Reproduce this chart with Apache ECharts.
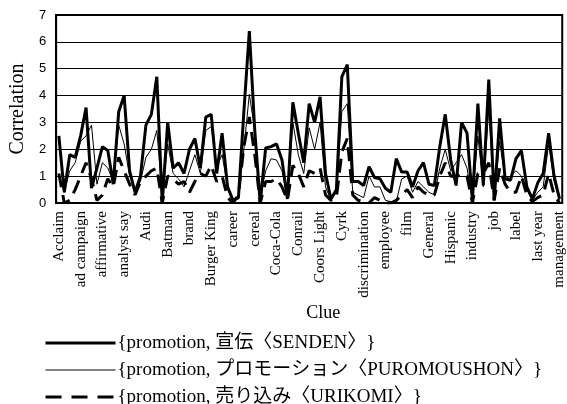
<!DOCTYPE html>
<html>
<head>
<meta charset="utf-8">
<script src="https://cdn.jsdelivr.net/npm/echarts@6/dist/echarts.min.js"></script>
<style>
  html, body { margin: 0; padding: 0; background: #fff; }
  #clueChart { width: 567px; height: 404px; }
</style>
</head>
<body>
<div id="clueChart"></div>
<script>
// clue words (only every 4th one is labelled on the axis)
const clues = [
  'Acclaim', 'account', 'ad', 'ad agency', 'ad campaign', 'ad spending', 'advertiser', 'advertising',
  'affirmative', 'agency', 'American', 'analyst', 'analyst say', 'Apple', 'AT&T', 'attorney',
  'Audi', 'award', 'bank', 'baseball', 'Batman', 'beer', 'billboard', 'book',
  'brand', 'brand name', 'budget', 'Budweiser', 'Burger King', 'business', 'campaign', 'candidate',
  'career', 'catalog', 'CBS', 'celebrity', 'cereal', 'chain', 'Chrysler', 'client',
  'Coca-Cola', 'coffee', 'company', 'computer', 'Conrail', 'consumer', 'contest', 'Coors',
  'Coors Light', 'coupon', 'credit card', 'customer', 'Cyrk', 'deal', 'dealer', 'discount',
  'discrimination', 'Disney', 'distributor', 'election', 'employee', 'event', 'executive', 'fashion',
  'film', 'Ford', 'game', 'gasoline', 'General', 'gift', 'Gillette', 'hiring',
  'Hispanic', 'holiday', 'hotel', 'incentive', 'industry', 'initiative', 'investment', 'item',
  'job', 'Kellogg', 'Kmart', 'Kodak', 'label', 'labor', 'language', 'last week',
  'last year', 'launch', 'law', 'logo', 'management'
];

// {promotion, 宣伝}
const senden = [
  2.5, 0.4, 1.8, 1.7, 2.5, 3.55, 0.55, 1.3, 2.1, 1.95, 0.7, 3.4, 4.0, 1.2, 0.4, 1.0,
  2.9, 3.3, 4.7, 0.0, 3.0, 1.3, 1.5, 1.1, 2.0, 2.4, 1.3, 3.2, 3.3, 1.1, 2.6, 0.6,
  0.1, 0.2, 3.4, 6.4, 2.7, 0.0, 2.05, 2.1, 2.2, 1.6, 0.15, 3.75, 2.6, 1.5, 3.7, 3.0,
  3.95, 1.1, 0.15, 0.5, 4.7, 5.15, 0.8, 0.8, 0.65, 1.35, 0.95, 0.9, 0.55, 0.4, 1.65, 1.15,
  1.15, 0.6, 1.2, 1.5, 0.7, 0.65, 2.1, 3.3, 1.6, 0.65, 3.0, 2.6, 0.1, 3.7, 0.65, 4.6,
  0.1, 3.15, 0.9, 0.85, 1.65, 1.95, 0.6, 0.15, 0.75, 1.1, 2.6, 1.0, 0.15
];

// {promotion, プロモーション}
const puromoushon = [
  1.0, 0.4, 1.2, 1.5, 2.3, 2.5, 2.9, 0.7, 1.5, 1.3, 0.8, 2.9, 2.2, 1.0, 0.5, 0.8,
  1.7, 2.0, 2.7, 0.3, 2.2, 1.1, 0.9, 0.6, 1.2, 1.8, 1.1, 2.7, 2.85, 1.35, 1.8, 0.6,
  0.1, 0.2, 2.0, 4.05, 2.7, 0.2, 1.2, 1.65, 1.6, 1.2, 0.2, 3.0, 1.8, 1.1, 2.8, 2.0,
  3.0, 0.6, 0.1, 0.4, 3.4, 3.7, 0.4, 0.3, 0.2, 1.0, 0.6, 0.6, 0.1, 0.05, 0.05, 0.9,
  1.0, 0.4, 0.8, 0.6, 0.4, 0.3, 1.3, 2.0, 1.2, 1.5, 1.8, 1.3, 0.1, 2.5, 0.6, 3.5,
  0.2, 2.3, 0.9, 1.0, 1.2, 1.0, 0.5, 0.1, 0.4, 0.6, 2.2, 0.8, 0.1
];

// {promotion, 売り込み}
const urikomi = [
  1.1, 0.0, 0.1, 0.5, 1.0, 1.5, 0.9, 0.1, 0.3, 0.9, 0.6, 1.7, 1.2, 0.7, 0.3, 0.8,
  1.0, 1.2, 1.3, 0.0, 1.0, 0.9, 0.7, 0.8, 0.4, 0.8, 1.1, 1.0, 1.4, 0.8, 1.0, 0.2,
  0.0, 0.3, 2.1, 3.2, 1.8, 0.0, 0.8, 0.8, 0.9, 0.6, 0.1, 1.4, 1.1, 0.6, 1.2, 1.1,
  1.3, 0.3, 0.1, 0.2, 1.9, 2.4, 0.3, 0.1, 0.05, 0.0, 0.2, 0.1, 0.0, 0.0, 0.1, 0.3,
  0.5, 0.2, 0.6, 0.4, 0.3, 0.3, 1.0, 1.5, 1.0, 1.0, 1.1, 1.0, 0.0, 1.1, 1.1, 1.5,
  0.1, 1.3, 0.7, 0.4, 0.4, 1.0, 0.3, 0.05, 0.2, 0.3, 1.1, 0.3, 0.0
];

const seriesNames = [
  '{promotion, 宣伝〈SENDEN〉}',
  '{promotion, プロモーション〈PUROMOUSHON〉}',
  '{promotion, 売り込み〈URIKOMI〉}'
];

const serif = "'Liberation Serif', 'Noto Sans CJK JP', serif";

const init = () => {
  let chartDom = document.getElementById('clueChart');
  let myChart = echarts.init(chartDom);
  let option = {
    animation: false,
    grid: {
      left: 54,
      right: 3,
      top: 15,
      bottom: 201,
      show: true,
      borderColor: '#000',
      borderWidth: 2
    },
    legend: {
      orient: 'vertical',
      left: 44,
      top: 333,
      height: 100,
      padding: 0,
      itemWidth: 70,
      itemHeight: 14,
      itemGap: 7,
      data: [
        { name: seriesNames[0], lineStyle: { width: 3 } },
        { name: seriesNames[1], lineStyle: { width: 1 } },
        { name: seriesNames[2], lineStyle: { width: 3, type: [16, 10] } }
      ],
      itemStyle: { opacity: 0 },
      textStyle: {
        fontFamily: serif,
        fontSize: 19,
        lineHeight: 20,
        color: '#000',
        padding: [0, 0, 0, -3]
      }
    },
    xAxis: {
      type: 'category',
      data: clues,
      boundaryGap: true,
      name: 'Clue',
      nameLocation: 'middle',
      nameGap: 101,
      nameTextStyle: {
        fontFamily: serif,
        fontSize: 18,
        color: '#000',
        padding: [0, 0, 0, 28]
      },
      axisLine: {
        lineStyle: { color: '#000', width: 2 }
      },
      axisTick: {
        inside: true,
        length: 4,
        interval: 0,
        lineStyle: { color: '#000' }
      },
      axisLabel: {
        interval: 3,
        rotate: 90,
        margin: 8,
        fontFamily: serif,
        fontSize: 15,
        color: '#000'
      }
    },
    yAxis: {
      type: 'value',
      min: 0,
      max: 7,
      interval: 1,
      name: 'Correlation',
      nameLocation: 'middle',
      nameGap: 27,
      nameTextStyle: {
        fontFamily: serif,
        fontSize: 20,
        color: '#000'
      },
      axisLine: {
        show: true,
        lineStyle: { color: '#000', width: 2 }
      },
      axisTick: { show: false },
      axisLabel: {
        margin: 10,
        fontFamily: "'Liberation Sans', Arial, sans-serif",
        fontSize: 13,
        color: '#000'
      },
      splitLine: {
        lineStyle: { color: '#000', width: 1 }
      }
    },
    series: [
      {
        name: seriesNames[0],
        type: 'line',
        data: senden,
        symbol: 'none',
        z: 4,
        lineStyle: { color: '#000', width: 3 },
        itemStyle: { color: '#000' }
      },
      {
        name: seriesNames[1],
        type: 'line',
        data: puromoushon,
        symbol: 'none',
        z: 2,
        lineStyle: { color: '#000', width: 1 },
        itemStyle: { color: '#000' }
      },
      {
        name: seriesNames[2],
        type: 'line',
        data: urikomi,
        symbol: 'none',
        z: 3,
        lineStyle: { color: '#000', width: 3, type: [14, 8] },
        itemStyle: { color: '#000' }
      }
    ]
  };
  option && myChart.setOption(option);
};

init();
</script>
</body>
</html>
